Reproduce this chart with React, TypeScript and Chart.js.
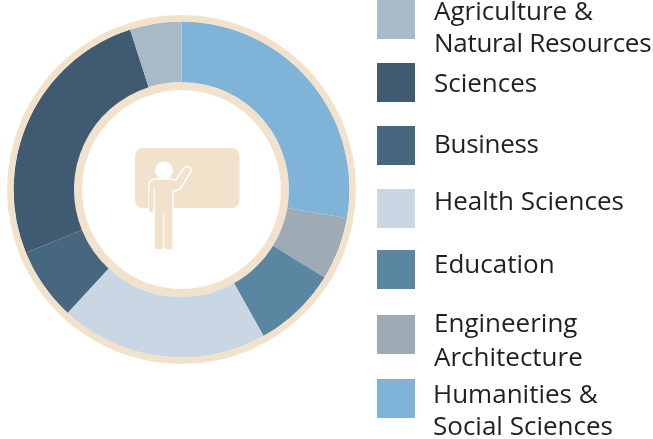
import React, { useEffect, useRef } from "react";
import { Chart, registerables } from "chart.js";

Chart.register(...registerables);

const categories = [
  "Humanities & Social Sciences",
  "Engineering Architecture",
  "Education",
  "Health Sciences",
  "Business",
  "Sciences",
  "Agriculture & Natural Resources",
];
const shares = [27.75, 6.05, 8.1, 20, 7, 26.2, 4.95];
const colors = ["#7fb3d8", "#9eabb5", "#5b86a1", "#c9d6e3", "#46677e", "#405a72", "#a8bac7"];
const frameShare = [1];
const BEIGE = "#f2e2cb";

// Legend layout, in reading order
const legendRows = [
  { name: "Agriculture & Natural Resources", color: colors[6], boxTop: 0, lines: ["Agriculture &", "Natural Resources"], baselines: [20, 52], x: 434, tracking: [0, -0.3] },
  { name: "Sciences", color: colors[5], boxTop: 63, lines: ["Sciences"], baselines: [92], x: 434, tracking: [0] },
  { name: "Business", color: colors[4], boxTop: 126, lines: ["Business"], baselines: [153], x: 434, tracking: [-0.3] },
  { name: "Health Sciences", color: colors[3], boxTop: 189, lines: ["Health Sciences"], baselines: [210], x: 434, tracking: [0] },
  { name: "Education", color: colors[2], boxTop: 250, lines: ["Education"], baselines: [273], x: 434, tracking: [0] },
  { name: "Engineering Architecture", color: colors[1], boxTop: 315, lines: ["Engineering", "Architecture"], baselines: [332, 366], x: 434, tracking: [0, 0] },
  { name: "Humanities & Social Sciences", color: colors[0], boxTop: 379, lines: ["Humanities &", "Social Sciences"], baselines: [403, 435], x: 433, tracking: [0, 0] },
];

const FONT_SIZE = 26;
const BASE_OFFSET = 26.1;

function Teacher() {
  const legs =
    "M155 185 H172.3 V246 Q172.3 249.5 169 249.5 H167.5 Q164.2 249.5 164.2 246 V213 H163.2 V246 Q163.2 249.5 160 249.5 H158.5 Q155 249.5 155 246 Z";
  const upper =
    "M149 212 V186 Q149 179 156 179 H171 L176 180 L184 168 Q187 165 190 167.5 Q192 170 190.5 172.5 L182 186 Q179 191 173 191 V208 H149 Z";
  return (
    <svg width={653} height={439} style={{ position: "absolute", left: 0, top: 0, pointerEvents: "none" }}>
      <rect x={135} y={148} width={104.5} height={60} rx={8} fill={BEIGE} />
      <path d={upper} fill={BEIGE} stroke="#fff" strokeWidth={1.6} strokeLinejoin="round" />
      <rect x={149} y={190} width={4.5} height={22} rx={2} fill={BEIGE} />
      <path d="M154.3 187 V212" stroke="#fff" strokeWidth={1.1} fill="none" />
      <path d={legs} fill={BEIGE} />
      <circle cx={164} cy={170.5} r={9} fill="#fff" />
    </svg>
  );
}

export default function App() {
  const ref = useRef<HTMLCanvasElement>(null);
  useEffect(() => {
    const chart = new Chart(ref.current!, {
      type: "doughnut",
      data: {
        labels: categories,
        datasets: [
          { data: frameShare, backgroundColor: [BEIGE], borderWidth: 0, weight: 6.5 },
          { data: shares, backgroundColor: colors, borderWidth: 0, weight: 60.5 },
          { data: frameShare, backgroundColor: [BEIGE], borderWidth: 0, weight: 8 },
        ],
      } as any,
      options: {
        responsive: false,
        animation: false,
        cutout: 99.5,
        layout: { padding: { left: 7, right: 297, top: 15, bottom: 75 } },
        plugins: { legend: { display: false }, tooltip: { enabled: false } },
      } as any,
    });
    return () => chart.destroy();
  }, []);

  return (
    <div style={{ position: "absolute", left: 0, top: 0, width: 653, height: 439, overflow: "hidden", background: "#fff" }}>
      <canvas ref={ref} width={653} height={439} style={{ position: "absolute", left: 0, top: 0 }} />
      <Teacher />
      {legendRows.map((r) => (
        <React.Fragment key={r.name}>
          <div style={{ position: "absolute", left: 377, top: r.boxTop, width: 38, height: 39, background: r.color }} />
          {r.lines.map((line, i) => (
            <div
              key={line}
              style={{
                position: "absolute",
                left: r.x,
                top: r.baselines[i] - BASE_OFFSET,
                fontFamily: "'Open Sans', sans-serif",
                fontSize: FONT_SIZE,
                letterSpacing: r.tracking[i],
                lineHeight: "32px",
                color: "#231f20",
                whiteSpace: "nowrap",
              }}
            >
              {line}
            </div>
          ))}
        </React.Fragment>
      ))}
    </div>
  );
}
